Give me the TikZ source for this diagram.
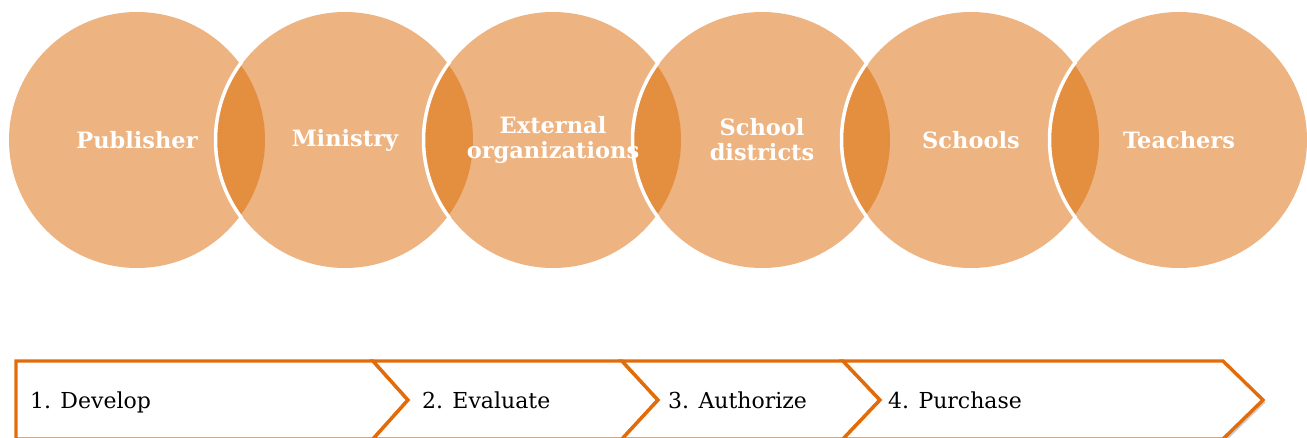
\documentclass[tikz,border=0pt]{standalone}
\usepackage{fontspec}
\setmainfont{DejaVu Serif}
\usetikzlibrary{positioning,shadows}
\definecolor{peach}{RGB}{237,179,128}
\definecolor{lensfill}{RGB}{228,142,64}
\definecolor{rim}{RGB}{227,108,10}
\begin{document}
\begin{tikzpicture}[x=1pt,y=-1pt,
    actor/.style={circle,fill=peach,minimum size=256pt,inner sep=0pt},
    actorlabel/.style={text=white,font=\bfseries\fontsize{22.5}{25}\selectfont,align=center},
    stagebox/.style={draw=rim,line width=3.4pt,fill=white,line join=miter,
      drop shadow={shadow xshift=2.5pt,shadow yshift=-2.5pt,opacity=0.4}},
    stagelabel/.style={anchor=base west,inner sep=0pt,font=\fontsize{22}{26}\selectfont}]
  \useasboundingbox (0,0) rectangle (1307,437);
  % circles
  \node[actor] (pub) at (137,140) {};
  \node[actor] (min) at (345,140) {};
  \node[actor] (ext) at (553,140) {};
  \node[actor] (dist) at (762,140) {};
  \node[actor] (sch) at (971,140) {};
  \node[actor] (tea) at (1179,140) {};
  % overlaps
  \foreach \a/\b in {pub/min,min/ext,ext/dist,dist/sch,sch/tea}{
    \begin{scope}
      \clip (\a.center) circle (128);
      \fill[lensfill] (\b.center) circle (128);
    \end{scope}
    \begin{scope}
      \clip (\a.center) circle (131);
      \draw[white,line width=3.5pt] (\b.center) circle (129.5);
    \end{scope}
  }
  \node[actorlabel] at (pub) {Publisher};
  \node[actorlabel] at (min) {Ministry};
  \node[actorlabel] at (ext) {External\\organizations};
  \node[actorlabel] at (dist) {School\\districts};
  \node[actorlabel] at (sch) {Schools};
  \node[actorlabel] at (tea) {Teachers};
  % process steps
  \draw[stagebox] (16,361) -- (373,361) -- (408,400) -- (373,439) -- (16,439) -- cycle;
  \draw[stagebox] (373,361) -- (622,361) -- (658,400) -- (622,439) -- (373,439) -- (408,400) -- cycle;
  \draw[stagebox] (622,361) -- (843,361) -- (880,400) -- (843,439) -- (622,439) -- (658,400) -- cycle;
  \draw[stagebox] (843,361) -- (1223,361) -- (1263,400) -- (1223,439) -- (843,439) -- (880,400) -- cycle;
  \node[stagelabel] (dev) at (30,408) {1. Develop};
  \node[stagelabel] (eval) at (422,408) {2. Evaluate};
  \node[stagelabel] (auth) at (668,408) {3. Authorize};
  \node[stagelabel] (buy) at (888,408) {4. Purchase};
\end{tikzpicture}
\end{document}
